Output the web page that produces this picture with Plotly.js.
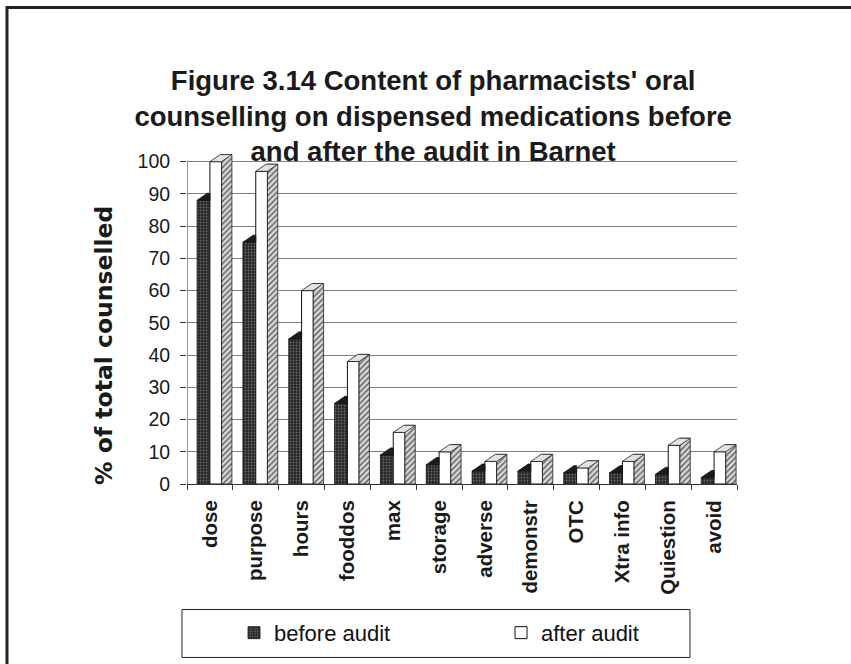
<!DOCTYPE html>
<html><head><meta charset="utf-8">
<script src="https://cdn.plot.ly/plotly-3.0.1.min.js"></script>
<style>html,body{margin:0;padding:0;background:#fff;} #chart{width:851px;height:664px;}</style>
</head><body><div id="chart"></div>
<script>
const categories = ['dose','purpose','hours','fooddos','max','storage','adverse','demonstr','OTC','Xtra info','Quiestion','avoid'];
const beforeAudit = [88, 75, 45, 25, 9, 6, 4, 4, 3.5, 3.5, 3, 2];
const afterAudit = [100, 97, 60, 38, 16, 10, 7, 7, 5, 7, 12, 10];
const yTicks = [0, 10, 20, 30, 40, 50, 60, 70, 80, 90, 100];
const seriesNames = ['before audit', 'after audit'];

const idx = categories.map((c, i) => i);
const BW = 0.28, AW = 0.255, DX = 0.225, DY = 2.2;

const font = 'Liberation Sans, Arial, sans-serif';

const traces = [
  {type:'bar', x: idx, y: beforeAudit, offset: -BW, width: BW, name: seriesNames[0],
   marker:{color:'#2a2a2a', line:{color:'#111', width:0.8},
     pattern:{shape:'.', bgcolor:'#262626', fgcolor:'#6a6a6a', size:3, solidity:0.3}},
   hoverinfo:'y'},
  {type:'bar', x: idx, y: afterAudit, offset: 0, width: AW, name: seriesNames[1],
   marker:{color:'#ffffff', line:{color:'#111', width:1}}, hoverinfo:'y'},
  {type:'bar', x: idx, y: afterAudit.map(v => v + DY), offset: AW, width: DX, showlegend:false,
   marker:{color:'#cfcfcf', line:{color:'#222', width:0.8},
     pattern:{shape:'/', bgcolor:'#d8d8d8', fgcolor:'#5a5a5a', size:4, solidity:0.35}},
   hoverinfo:'skip'}
];

const shapes = [];
idx.forEach(i => {
  const b = beforeAudit[i], a = afterAudit[i];
  const xb0 = i - BW, xb1 = i;
  shapes.push({type:'path', xref:'x', yref:'y', layer:'above',
    path:`M${xb0},${b} L${xb1},${b} L${xb1},${b+DY} L${xb0+DX},${b+DY} Z`,
    fillcolor:'#1c1c1c', line:{color:'#111', width:0.8}});
  const xa0 = i, xa1 = i + AW;
  shapes.push({type:'path', xref:'x', yref:'y', layer:'above',
    path:`M${xa0},${a} L${xa1},${a} L${xa1+DX},${a+DY} L${xa0+DX},${a+DY} Z`,
    fillcolor:'#e2e2e2', line:{color:'#222', width:0.8}});
});
// y axis line (0..100)
shapes.push({type:'line', xref:'x', yref:'y', x0:-0.5, x1:-0.5, y0:0, y1:100, line:{color:'#333', width:1}});
// legend frame
shapes.push({type:'rect', xref:'paper', yref:'paper', x0:-0.0091, x1:0.9145, y0:-0.378, y1:-0.5225,
  line:{color:'#222', width:1}, fillcolor:'rgba(0,0,0,0)'});
// outer page frame (left + top)
shapes.push({type:'path', xref:'paper', yref:'paper',
  path:'M-0.3273,-0.7 L-0.3273,1.4354 L1.3,1.4354', line:{color:'#222', width:3}});

const layout = {
  width: 851, height: 664,
  margin:{l:187, r:114, t:152, b:179},
  paper_bgcolor:'#fff', plot_bgcolor:'#fff',
  barmode:'overlay',
  showlegend:true,
  title:{text:'<b>Figure 3.14 Content of pharmacists\' oral<br>counselling on dispensed medications before<br>and after the audit in Barnet</b>',
    font:{family:font, size:27.5, color:'#1a1a1a'},
    xref:'container', yref:'container', x:0.509, xanchor:'center', y:0.8645, yanchor:'middle'},
  xaxis:{type:'linear', range:[-0.5, 11.5], tickvals: idx, ticktext: categories, tickangle:-90,
    ticks:'outside', ticklen:0, ticklabelstandoff:7, showgrid:false, zeroline:false,
    showline:true, linecolor:'#333', linewidth:1, automargin:false, fixedrange:true,
    tickfont:{family:font, size:20.5, color:'#1a1a1a', weight:'bold'},
    minor:{tickvals: idx.map(i => i - 0.5).concat([11.5]), ticks:'outside', ticklen:5, tickcolor:'#333', showgrid:false}},
  yaxis:{range:[0, 103], tickvals: yTicks, ticktext: yTicks.map(String), ticks:'outside', ticklen:6, tickcolor:'#333',
    ticklabelstandoff:6, showgrid:true, gridcolor:'#808080', gridwidth:1, zeroline:false, showline:false,
    automargin:false, fixedrange:true, tickfont:{family:font, size:19.5, color:'#1a1a1a'}},
  legend:{orientation:'h', x:0.0855, xanchor:'left', y:-0.444, yanchor:'middle', bgcolor:'rgba(0,0,0,0)',
    borderwidth:0, entrywidth:222, font:{family:font, size:22, color:'#111'}, traceorder:'normal'},
  annotations:[{text:'<b>% of total counselled</b>', textangle:-90, xref:'paper', yref:'paper',
    x:-0.152, y:0.417, xanchor:'center', yanchor:'middle', showarrow:false,
    font:{family:'DejaVu Sans, sans-serif', size:23.5, color:'#1a1a1a'}}],
  shapes: shapes
};

Plotly.newPlot('chart', traces, layout, {displayModeBar:false, staticPlot:true});
</script>
</body></html>
